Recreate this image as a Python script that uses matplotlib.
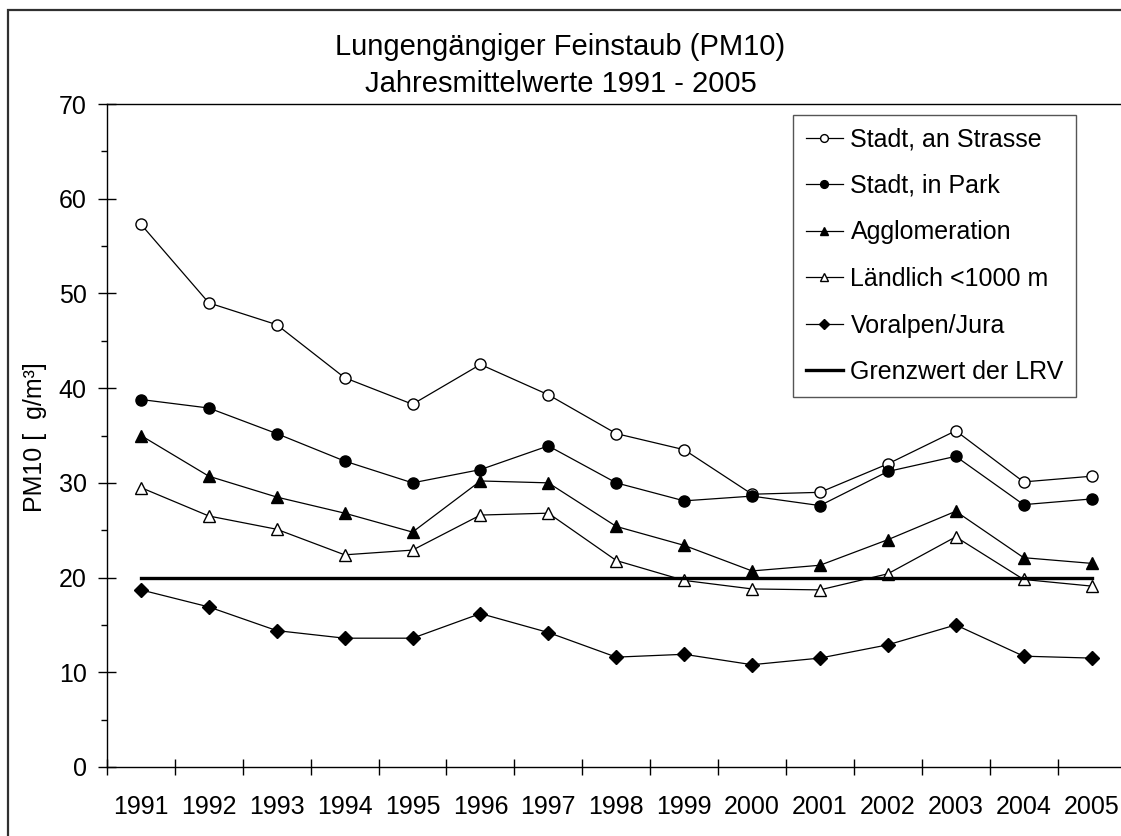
#!/usr/bin/env python3
# -*- coding: UTF-8 -*-
"""
PM10 annual means 1991 - 2005, line chart with MatPlotLib.
"""
from matplotlib import pyplot as plt
from matplotlib.patches import Rectangle

plt.rcParams['font.family'] = ['Liberation Sans', 'DejaVu Sans']

years = ['1991', '1992', '1993', '1994', '1995', '1996', '1997', '1998',
         '1999', '2000', '2001', '2002', '2003', '2004', '2005']

stadt_strasse = [57.3, 49.0, 46.7, 41.1, 38.3, 42.5, 39.3, 35.2,
                 33.5, 28.8, 29.0, 32.0, 35.5, 30.1, 30.7]
stadt_park = [38.8, 37.9, 35.2, 32.3, 30.0, 31.4, 33.9, 30.0,
              28.1, 28.6, 27.6, 31.2, 32.8, 27.7, 28.3]
agglomeration = [35.0, 30.7, 28.5, 26.8, 24.8, 30.2, 30.0, 25.4,
                 23.4, 20.7, 21.3, 24.0, 27.0, 22.1, 21.5]
laendlich = [29.5, 26.5, 25.1, 22.4, 22.9, 26.6, 26.8, 21.8,
             19.7, 18.8, 18.7, 20.4, 24.3, 19.8, 19.1]
voralpen = [18.7, 16.9, 14.4, 13.6, 13.6, 16.2, 14.2, 11.6,
            11.9, 10.8, 11.5, 12.9, 15.0, 11.7, 11.5]
grenzwert = [20] * len(years)

series = [
    ('Stadt, an Strasse', stadt_strasse, 'o', 'white', 8),
    ('Stadt, in Park', stadt_park, 'o', 'black', 8),
    ('Agglomeration', agglomeration, '^', 'black', 9),
    ('Ländlich <1000 m', laendlich, '^', 'white', 9),
    ('Voralpen/Jura', voralpen, 'D', 'black', 7),
]

W, H = 1121, 836
fig = plt.figure(figsize=(W / 100, H / 100), dpi=100)

# outer chart frame, cut off at the right and bottom like the source image
fig.patches.append(Rectangle((8 / W, -0.1), 1.2, 1 - 10 / H + 0.1,
                             transform=fig.transFigure, fill=False,
                             edgecolor='#303030', linewidth=1.6))

ax = fig.add_axes([107 / W, 1 - 767 / H, 1.004 - 107 / W, (767 - 104) / H])

x = list(range(1, len(years) + 1))
for label, values, marker, face, size in series:
    ax.plot(x, values, color='black', linewidth=0.9, marker=marker,
            markersize=size, markerfacecolor=face, markeredgecolor='black',
            markeredgewidth=1.0, label=label)
ax.plot(x, grenzwert, color='black', linewidth=2.4, label='Grenzwert der LRV')

ax.set_xlim(0.5, len(years) + 0.5)
ax.set_ylim(0, 70)

ax.spines['right'].set_visible(False)
for side in ['left', 'bottom', 'top']:
    ax.spines[side].set_linewidth(1.0)

ax.set_xticks([i + 0.5 for i in range(len(years))])
ax.set_xticklabels([])
ax.set_xticks(x, minor=True)
ax.set_xticklabels(years, minor=True)
ax.tick_params(axis='x', which='major', direction='inout', length=12, width=1.0)
ax.tick_params(axis='x', which='minor', length=0, pad=20, labelsize=18)

ax.set_yticks(range(0, 71, 10))
ax.set_yticks(range(5, 70, 10), minor=True)
ax.tick_params(axis='y', which='major', direction='inout', length=13,
               width=1.0, pad=8, labelsize=18)
ax.tick_params(axis='y', which='minor', direction='out', length=4.5, width=1.0)

fig.text(0.5, 1 - 55 / H, 'Lungengängiger Feinstaub (PM10)',
         ha='center', va='baseline', fontsize=21)
fig.text(0.5, 1 - 92 / H, 'Jahresmittelwerte 1991 - 2005',
         ha='center', va='baseline', fontsize=21)
fig.text(35 / W, 1 - 437 / H, 'PM10 [  g/m³]', rotation=90,
         ha='center', va='center', fontsize=18)

legend = ax.legend(loc='upper left', bbox_to_anchor=(793 / W, 1 - 115 / H),
                   bbox_transform=fig.transFigure, borderaxespad=0,
                   fontsize=18, frameon=True, fancybox=False,
                   edgecolor='#555555', framealpha=1, markerscale=0.7,
                   handlelength=1.5, handletextpad=0.3, labelspacing=0.9,
                   borderpad=0.5)
legend.get_frame().set_linewidth(1.0)

fig.savefig('out.png', dpi=100)
